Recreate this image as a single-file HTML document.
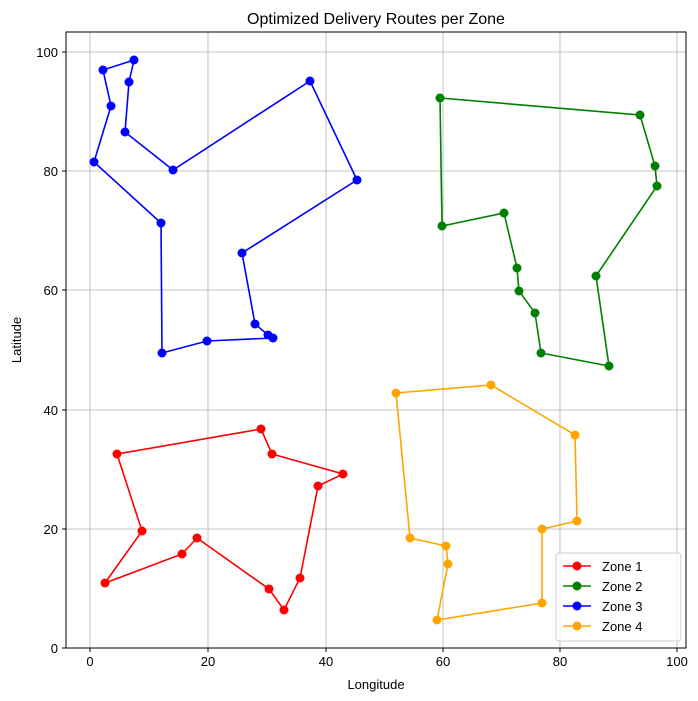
<!DOCTYPE html>
<html><head><meta charset="utf-8"><style>body{margin:0;background:#fff}svg{display:block;font-family:"Liberation Sans",sans-serif}</style></head><body>
<svg width="698" height="701" viewBox="0 0 698 701">
<rect width="698" height="701" fill="#fff"/>
<g stroke="#b0b0b0" stroke-width="0.8">
<line x1="90" y1="32" x2="90" y2="648"/><line x1="208" y1="32" x2="208" y2="648"/><line x1="326" y1="32" x2="326" y2="648"/><line x1="443" y1="32" x2="443" y2="648"/><line x1="560" y1="32" x2="560" y2="648"/><line x1="677" y1="32" x2="677" y2="648"/>
<line x1="66" y1="648" x2="686" y2="648"/><line x1="66" y1="529" x2="686" y2="529"/><line x1="66" y1="410" x2="686" y2="410"/><line x1="66" y1="290" x2="686" y2="290"/><line x1="66" y1="171" x2="686" y2="171"/><line x1="66" y1="52" x2="686" y2="52"/>
</g>
<rect x="66" y="32" width="620" height="616" fill="none" stroke="#000" stroke-width="1"/>
<g stroke="#000"><line x1="90" y1="648" x2="90" y2="652"/><line x1="208" y1="648" x2="208" y2="652"/><line x1="326" y1="648" x2="326" y2="652"/><line x1="443" y1="648" x2="443" y2="652"/><line x1="560" y1="648" x2="560" y2="652"/><line x1="677" y1="648" x2="677" y2="652"/>
<line x1="62" y1="648" x2="66" y2="648"/><line x1="62" y1="529" x2="66" y2="529"/><line x1="62" y1="410" x2="66" y2="410"/><line x1="62" y1="290" x2="66" y2="290"/><line x1="62" y1="171" x2="66" y2="171"/><line x1="62" y1="52" x2="66" y2="52"/></g>
<g font-size="13" text-anchor="middle"><text x="90" y="666">0</text><text x="208" y="666">20</text><text x="326" y="666">40</text><text x="443" y="666">60</text><text x="560" y="666">80</text><text x="677" y="666">100</text></g>
<g font-size="13" text-anchor="end"><text x="58" y="653">0</text><text x="58" y="534">20</text><text x="58" y="415">40</text><text x="58" y="295">60</text><text x="58" y="176">80</text><text x="58" y="57">100</text></g>
<text x="376" y="689" font-size="13" text-anchor="middle">Longitude</text>
<text x="21" y="340" font-size="13" text-anchor="middle" transform="rotate(-90 21 340)">Latitude</text>
<text x="376" y="24" font-size="16" text-anchor="middle">Optimized Delivery Routes per Zone</text>
<defs><clipPath id="c"><rect x="66" y="32" width="620" height="616"/></clipPath></defs>
<g fill="none" stroke-width="1.6">
<polyline stroke="red" points="105,583 142,531 117,454 261,429 272,454 343,474 318,486 300,578 284,610 269,589 197,538 182,554 105,583"/>
<polyline stroke="green" points="440,98 640,115 655,166 657,186 596,276 609,366 541,353 535,313 519,291 517,268 504,213 442,226 440,98"/>
<polyline stroke="blue" points="94,162 111,106 103,70 134,60 129,82 125,132 173,170 310,81 357,180 242,253 255,324 268,335 273,338 207,341 162,353 161,223 94,162"/>
<polyline stroke="orange" points="396,393 491,385 575,435 577,521 542,529 542,603 437,620 448,564 446,546 410,538 396,393"/>
</g>
<g fill="red"><circle cx="105" cy="583" r="4.5"/><circle cx="142" cy="531" r="4.5"/><circle cx="117" cy="454" r="4.5"/><circle cx="261" cy="429" r="4.5"/><circle cx="272" cy="454" r="4.5"/><circle cx="343" cy="474" r="4.5"/><circle cx="318" cy="486" r="4.5"/><circle cx="300" cy="578" r="4.5"/><circle cx="284" cy="610" r="4.5"/><circle cx="269" cy="589" r="4.5"/><circle cx="197" cy="538" r="4.5"/><circle cx="182" cy="554" r="4.5"/></g>
<g fill="green"><circle cx="440" cy="98" r="4.5"/><circle cx="640" cy="115" r="4.5"/><circle cx="655" cy="166" r="4.5"/><circle cx="657" cy="186" r="4.5"/><circle cx="596" cy="276" r="4.5"/><circle cx="609" cy="366" r="4.5"/><circle cx="541" cy="353" r="4.5"/><circle cx="535" cy="313" r="4.5"/><circle cx="519" cy="291" r="4.5"/><circle cx="517" cy="268" r="4.5"/><circle cx="504" cy="213" r="4.5"/><circle cx="442" cy="226" r="4.5"/></g>
<g fill="blue"><circle cx="94" cy="162" r="4.5"/><circle cx="111" cy="106" r="4.5"/><circle cx="103" cy="70" r="4.5"/><circle cx="134" cy="60" r="4.5"/><circle cx="129" cy="82" r="4.5"/><circle cx="125" cy="132" r="4.5"/><circle cx="173" cy="170" r="4.5"/><circle cx="310" cy="81" r="4.5"/><circle cx="357" cy="180" r="4.5"/><circle cx="242" cy="253" r="4.5"/><circle cx="255" cy="324" r="4.5"/><circle cx="268" cy="335" r="4.5"/><circle cx="273" cy="338" r="4.5"/><circle cx="207" cy="341" r="4.5"/><circle cx="162" cy="353" r="4.5"/><circle cx="161" cy="223" r="4.5"/></g>
<g fill="orange"><circle cx="396" cy="393" r="4.5"/><circle cx="491" cy="385" r="4.5"/><circle cx="575" cy="435" r="4.5"/><circle cx="577" cy="521" r="4.5"/><circle cx="542" cy="529" r="4.5"/><circle cx="542" cy="603" r="4.5"/><circle cx="437" cy="620" r="4.5"/><circle cx="448" cy="564" r="4.5"/><circle cx="446" cy="546" r="4.5"/><circle cx="410" cy="538" r="4.5"/></g>
<rect x="556" y="553" width="125" height="88" rx="3" fill="#fff" fill-opacity="0.8" stroke="#ccc"/>
<g stroke-width="1.6" font-size="13">
<line x1="563" y1="566" x2="591" y2="566" stroke="red"/><circle cx="577" cy="566" r="4.5" fill="red"/><text x="602" y="571">Zone 1</text>
<line x1="563" y1="586" x2="591" y2="586" stroke="green"/><circle cx="577" cy="586" r="4.5" fill="green"/><text x="602" y="591">Zone 2</text>
<line x1="563" y1="606" x2="591" y2="606" stroke="blue"/><circle cx="577" cy="606" r="4.5" fill="blue"/><text x="602" y="611">Zone 3</text>
<line x1="563" y1="626" x2="591" y2="626" stroke="orange"/><circle cx="577" cy="626" r="4.5" fill="orange"/><text x="602" y="631">Zone 4</text>
</g>
</svg>
</body></html>
